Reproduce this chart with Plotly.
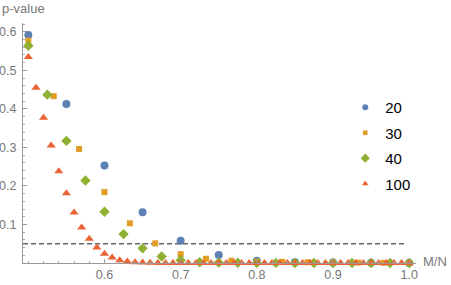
import plotly.graph_objects as go

# Data (p-value vs M/N for several N)
n_values = [20, 30, 40, 100]

p_n20 = [0.592, 0.413, 0.253, 0.132, 0.058, 0.021, 0.006, 0.002, 0.001, 0.0005, 0.0003]
p_n30 = [0.577, 0.433, 0.296, 0.184, 0.103, 0.051, 0.023, 0.011, 0.006, 0.004,
         0.003, 0.002, 0.001, 0.001, 0.0005, 0.0003]
p_n40 = [0.564, 0.437, 0.317, 0.214, 0.133, 0.075, 0.038, 0.017, 0.007, 0.002,
         0.001, 0.0005, 0.0003, 0.0002, 0.0001, 0.0, 0.0, 0.0, 0.0, 0.0, 0.0]
p_n100 = [0.535, 0.455, 0.377, 0.305, 0.238, 0.181, 0.131, 0.092, 0.063, 0.040,
          0.024, 0.014, 0.007, 0.004, 0.002, 0.001, 0.0005, 0.0003, 0.0002, 0.0001,
          0.0, 0.0, 0.0, 0.0, 0.0, 0.0, 0.0, 0.0, 0.0, 0.0,
          0.0, 0.0, 0.0, 0.0, 0.0, 0.0, 0.0, 0.0, 0.0, 0.0,
          0.0, 0.0, 0.0, 0.0, 0.0, 0.0, 0.0, 0.0, 0.0, 0.0, 0.0]
series = [p_n20, p_n30, p_n40, p_n100]

threshold = 0.05
x_ticks = [0.6, 0.7, 0.8, 0.9, 1.0]
x_tick_labels = ["0.6", "0.7", "0.8", "0.9", "1.0"]
y_ticks = [0.1, 0.2, 0.3, 0.4, 0.5, 0.6]
y_tick_labels = ["0.1", "0.2", "0.3", "0.4", "0.5", "0.6"]

colors = ["#5E81B5", "#E19C24", "#8FB032", "#EB6235"]
symbols = ["circle", "square", "diamond", "triangle-up"]
sizes = [8, 6, 8, 8]
legend_sizes = [6, 4.5, 7, 6]

fig = go.Figure()
for i, (n, p) in enumerate(zip(n_values, series)):
    m_over_n = [m / n for m in range(n // 2, n + 1)]
    fig.add_trace(go.Scatter(
        x=m_over_n, y=p, mode="markers", name=str(n),
        legendgroup=str(n), showlegend=False,
        marker=dict(color=colors[i], symbol=symbols[i], size=sizes[i], line=dict(width=0)),
        cliponaxis=False,
    ))
    # legend entry with the smaller legend symbol
    fig.add_trace(go.Scatter(
        x=[None], y=[None], mode="markers", name=str(n),
        legendgroup=str(n), showlegend=True,
        marker=dict(color=colors[i], symbol=symbols[i], size=legend_sizes[i], line=dict(width=0)),
    ))

fig.add_shape(type="line", xref="x", yref="y", x0=0.493, x1=0.996, y0=threshold, y1=threshold,
              line=dict(color="#666666", width=1.6, dash="5px,3px"), layer="below")

tick_font = dict(family="Liberation Sans, Arial, sans-serif", size=12.5, color="#777777")
label_font = dict(family="Liberation Sans, Arial, sans-serif", size=13, color="#777777")

fig.update_layout(
    width=451, height=285,
    margin=dict(l=23, r=35, t=23, b=22),
    paper_bgcolor="white", plot_bgcolor="white",
    showlegend=True,
    legend=dict(x=0.82, y=0.717, xanchor="left", yanchor="top",
                font=dict(family="Liberation Sans, Arial, sans-serif", size=15, color="black"),
                tracegroupgap=3, itemwidth=30, bgcolor="rgba(0,0,0,0)"),
    xaxis=dict(range=[0.493, 1.009], showgrid=False, zeroline=False, automargin=False,
               showline=True, linecolor="#999999", linewidth=1,
               tickmode="array", tickvals=x_ticks, ticktext=x_tick_labels,
               ticks="inside", ticklen=4, tickcolor="#999999", tickfont=tick_font,
               minor=dict(tickmode="linear", tick0=0.5, dtick=0.02, ticks="inside",
                          ticklen=2, tickcolor="#aaaaaa")),
    yaxis=dict(range=[0, 0.623], showgrid=False, zeroline=False, automargin=False,
               showline=True, linecolor="#999999", linewidth=1,
               tickmode="array", tickvals=y_ticks, ticktext=y_tick_labels,
               ticks="inside", ticklen=4, tickcolor="#999999", tickfont=tick_font,
               ticklabelstandoff=3,
               minor=dict(tickmode="linear", tick0=0, dtick=0.02, ticks="inside",
                          ticklen=2, tickcolor="#aaaaaa")),
    annotations=[
        dict(text="p-value", xref="paper", yref="paper", x=-0.058, y=1.0625,
             xanchor="left", yanchor="middle", showarrow=False, font=label_font),
        dict(text="M/N", xref="paper", yref="paper", x=1.0127, y=0.008,
             xanchor="left", yanchor="middle", showarrow=False, font=label_font),
    ],
)

fig.write_html("out.html", post_script="document.body.style.margin='0';",
               config={"displayModeBar": False})
